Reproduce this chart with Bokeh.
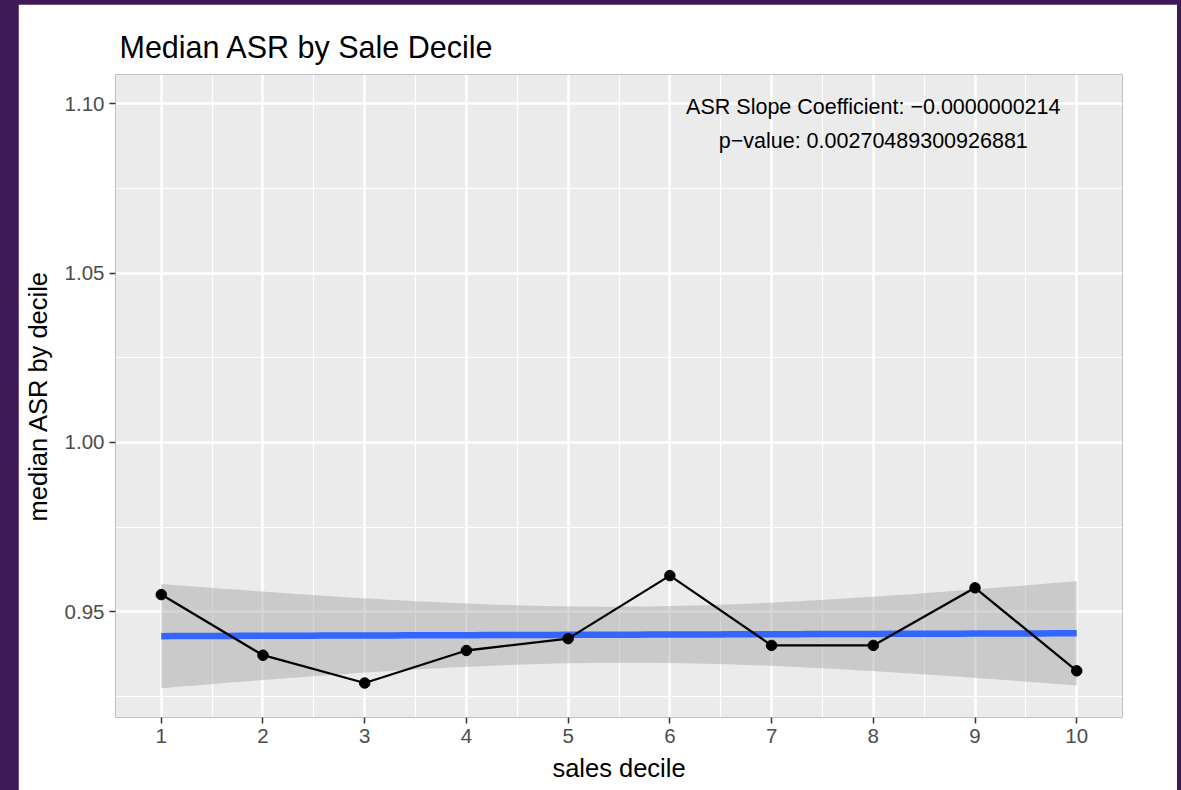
import numpy as np
from bokeh.plotting import figure
from bokeh.layouts import column
from bokeh.models import Range1d, FixedTicker, PrintfTickFormatter
from bokeh.core.properties import value
from bokeh.embed import file_html
from bokeh.resources import INLINE

# Median assessment-to-sales ratio for each sales decile
sales_decile = [1, 2, 3, 4, 5, 6, 7, 8, 9, 10]
median_asr = [0.9551, 0.9372, 0.9290, 0.9386, 0.9421, 0.9607, 0.9401, 0.9401, 0.9571, 0.9326]

x_ticks = [1, 2, 3, 4, 5, 6, 7, 8, 9, 10]
y_ticks = [0.95, 1.00, 1.05, 1.10]

slope_text = "ASR Slope Coefficient: \u22120.0000000214"
pvalue_text = "p\u2212value: 0.00270489300926881"
note_x = 8
note_y = 1.10

T_CRIT = 2.306  # t quantile (0.975, df = 8)

FONT = "Liberation Sans"
PURPLE = "#3F1A56"

# linear fit with 95% confidence band, as geom_smooth(method = "lm")
x = np.array(sales_decile, dtype=float)
y = np.array(median_asr, dtype=float)
n = len(x)
slope, intercept = np.polyfit(x, y, 1)
resid = y - (slope * x + intercept)
s = np.sqrt(np.sum(resid ** 2) / (n - 2))
sxx = np.sum((x - x.mean()) ** 2)
xs = np.linspace(x.min(), x.max(), 80)
fit = slope * xs + intercept
se = s * np.sqrt(1.0 / n + (xs - x.mean()) ** 2 / sxx)
lo = fit - T_CRIT * se
hi = fit + T_CRIT * se

# ranges expanded by 5% like ggplot
x_span = x.max() - x.min()
ymin = min(lo.min(), y.min())
ymax = max(hi.max(), y.max(), note_y)
y_span = ymax - ymin

p = figure(
    width=1159, height=786,
    x_range=Range1d(x.min() - 0.05 * x_span, x.max() + 0.05 * x_span),
    y_range=Range1d(ymin - 0.05 * y_span, ymax + 0.05 * y_span),
    output_backend="svg", toolbar_location=None,
    background_fill_color="#EBEBEB", border_fill_color="white",
    outline_line_color=None, outline_line_alpha=0,
    min_border_left=97, min_border_right=55,
    min_border_top=70, min_border_bottom=73,
)
p.margin = (4, 4, 0, 18)

p.title.text = "Median ASR by Sale Decile"
p.title.text_font = FONT
p.title.text_font_size = "30.5px"
p.title.text_font_style = "normal"
p.title.text_color = "black"
p.title.align = "left"
p.title.offset = 4
p.title.standoff = 22

minor_x = [v + 0.5 for v in x_ticks[:-1]]
minor_y = [0.925, 0.975, 1.025, 1.075]
p.xaxis.ticker = FixedTicker(ticks=x_ticks, minor_ticks=minor_x)
p.yaxis.ticker = FixedTicker(ticks=y_ticks, minor_ticks=minor_y)
p.yaxis.formatter = PrintfTickFormatter(format="%.2f")

for ax in (p.xaxis, p.yaxis):
    ax.axis_line_color = None
    ax.major_tick_line_color = "#333333"
    ax.major_tick_line_width = 1.5
    ax.major_tick_out = 6
    ax.major_tick_in = 0
    ax.minor_tick_line_color = None
    ax.major_label_text_font = FONT
    ax.major_label_text_font_size = "20.5px"
    ax.major_label_text_color = "#4D4D4D"
    ax.axis_label_text_font = FONT
    ax.axis_label_text_font_size = "25.5px"
    ax.axis_label_text_font_style = "normal"
    ax.axis_label_text_color = "black"
    ax.major_label_standoff = 5
    ax.axis_label_standoff = 8
p.yaxis.axis_label_standoff = 10

p.xaxis.axis_label = "sales decile"
p.yaxis.axis_label = "median ASR by decile"

for g in (p.xgrid, p.ygrid):
    g.grid_line_color = "white"
    g.grid_line_width = 2.4
    g.minor_grid_line_color = "white"
    g.minor_grid_line_width = 1.2

p.varea(x=xs, y1=lo, y2=hi, fill_color="#999999", fill_alpha=0.4)
p.line(xs, fit, line_color="#3366FF", line_width=6.5)
p.line(sales_decile, median_asr, line_color="black", line_width=2.3)
p.scatter(sales_decile, median_asr, size=10.5, fill_color="black", line_color="black")

p.text(x=[note_x, note_x], y=[note_y, note_y], text=[slope_text, pvalue_text],
       y_offset=[3, 37], text_align="center", text_baseline="middle",
       text_font=value(FONT), text_font_size="21.5px", text_color="black")

root = column(p, width=1181, height=790, styles={"background-color": PURPLE})

open("out.html", "w").write(file_html(root, INLINE))
